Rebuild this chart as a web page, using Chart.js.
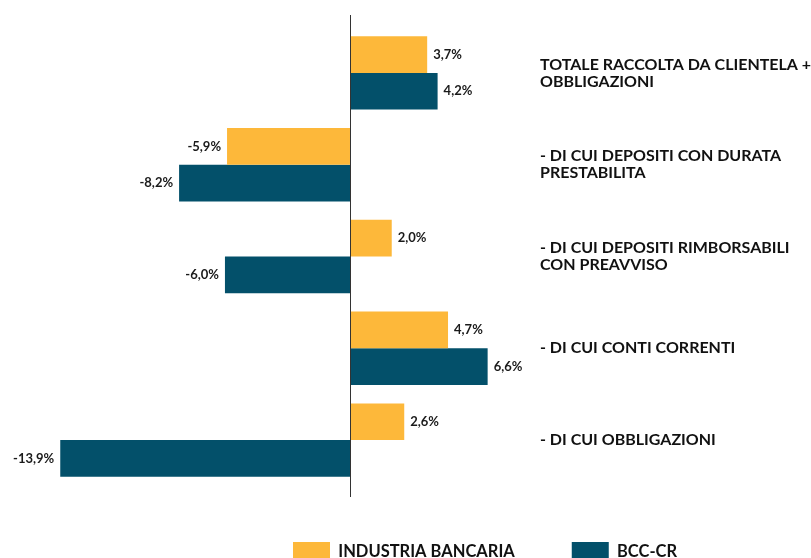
<!DOCTYPE html>
<html>
<head>
<meta charset="utf-8">
<script src="https://cdn.jsdelivr.net/npm/chart.js@4"></script>
<style>
  html, body { margin: 0; padding: 0; background: #fff; overflow: hidden; }
  #wrap { position: relative; width: 811px; height: 595px; }
</style>
</head>
<body>
<div id="wrap"><canvas id="chart"></canvas></div>
<script>
// data
const categories = [
  ['TOTALE RACCOLTA DA CLIENTELA +', 'OBBLIGAZIONI'],
  ['- DI CUI DEPOSITI CON DURATA', 'PRESTABILITA'],
  ['- DI CUI DEPOSITI RIMBORSABILI', 'CON PREAVVISO'],
  '- DI CUI CONTI CORRENTI',
  '- DI CUI OBBLIGAZIONI'
];
const seriesNames = ['INDUSTRIA BANCARIA', 'BCC-CR'];
const industriaBancaria = [3.7, -5.9, 2.0, 4.7, 2.6];
const bccCr = [4.2, -8.2, -6.0, 6.6, -13.9];

const YELLOW = '#FDB83A';
const TEAL = '#03506A';

const fmt = v => v.toFixed(1).replace('.', ',') + '%';

// vertical line at zero, a bit longer than the plot area
const zeroLine = {
  id: 'zeroLine',
  afterDatasetsDraw(chart) {
    const { ctx, chartArea, scales } = chart;
    const x = Math.round(scales.x.getPixelForValue(0)) + 0.5;
    ctx.save();
    ctx.strokeStyle = '#333';
    ctx.lineWidth = 1;
    ctx.beginPath();
    ctx.moveTo(x, chartArea.top - 12);
    ctx.lineTo(x, chartArea.bottom + 11);
    ctx.stroke();
    ctx.restore();
  }
};

// percentage labels at the end of each bar
const valueLabels = {
  id: 'valueLabels',
  afterDatasetsDraw(chart) {
    const ctx = chart.ctx;
    ctx.save();
    ctx.font = 'bold 13px Lato';
    ctx.fillStyle = '#1a1a1a';
    ctx.textBaseline = 'middle';
    chart.data.datasets.forEach((ds, i) => {
      chart.getDatasetMeta(i).data.forEach((bar, j) => {
        const v = ds.data[j];
        const neg = v < 0;
        ctx.textAlign = neg ? 'right' : 'left';
        ctx.fillText(fmt(v), bar.x + (neg ? -6 : 6), bar.y);
      });
    });
    ctx.restore();
  }
};

// legend sits off-centre in the original
const legendShift = {
  id: 'legendShift',
  afterLayout(chart) {
    const lg = chart.legend;
    if (!lg || !lg.lineWidths) return;
    const pad = lg.options.labels.padding;
    const start = (lg.left + pad + lg.right - lg.lineWidths[0]) / 2;
    const dx = 293 - start;
    lg.left += dx;
    lg.right += dx;
    lg.top -= 1;
    lg.bottom -= 1;
  }
};

new Chart(document.getElementById('chart'), {
  type: 'bar',
  data: {
    labels: categories,
    datasets: [
      {
        label: seriesNames[0],
        data: industriaBancaria,
        backgroundColor: YELLOW,
        borderWidth: 0,
        categoryPercentage: 0.8,
        barPercentage: 1
      },
      {
        label: seriesNames[1],
        data: bccCr,
        backgroundColor: TEAL,
        borderWidth: 0,
        categoryPercentage: 0.8,
        barPercentage: 1
      }
    ]
  },
  options: {
    indexAxis: 'y',
    responsive: true,
    maintainAspectRatio: false,
    animation: false,
    layout: { padding: { top: 27, bottom: 22, left: 0, right: 0 } },
    scales: {
      x: { display: false, min: -16.79, max: 8.68 },
      y: {
        position: 'right',
        grid: { display: false, drawTicks: false },
        border: { display: false },
        ticks: {
          color: '#111',
          padding: 9,
          autoSkip: false,
          maxRotation: 0,
          font: { family: 'Lato', weight: 'bold', size: 16, lineHeight: 1.06 }
        },
        afterFit(scale) { scale.width = 280; }
      }
    },
    plugins: {
      legend: {
        position: 'bottom',
        labels: {
          boxWidth: 37,
          boxHeight: 20,
          padding: 57,
          color: '#111',
          font: { family: 'Lato', weight: 'bold', size: 16.5 }
        }
      },
      tooltip: { enabled: false }
    }
  },
  plugins: [zeroLine, valueLabels, legendShift]
});
</script>
</body>
</html>
